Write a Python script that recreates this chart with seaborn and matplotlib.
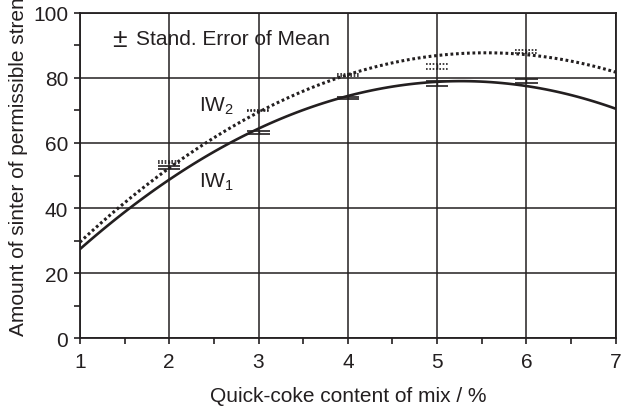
import numpy as np
import pandas as pd
import seaborn as sns
import matplotlib.pyplot as plt

# values
quick_coke = [1, 2, 3, 4, 5, 6, 7]
iw1_curve = [27.4, 48.6, 64.4, 74.6, 78.7, 77.6, 70.5]
iw2_curve = [29.5, 52.3, 69.5, 80.9, 86.9, 87.3, 81.7]

mean_x = [2, 3, 4, 5, 6]
iw1_mean = [52.5, 63.3, 73.8, 78.3, 79.2]
iw1_err = [0.5, 0.5, 0.3, 0.7, 0.6]
iw2_mean = [54.1, 70.0, 81.0, 83.5, 88.2]
iw2_err = [0.3, 0.3, 0.3, 0.75, 0.5]

x_ticks = [1, 2, 3, 4, 5, 6, 7]
y_ticks = [0, 20, 40, 60, 80, 100]

sns.set_style("ticks")
plt.rcParams["font.family"] = ["Liberation Sans", "DejaVu Sans"]
ink = "#231f20"

curves = pd.DataFrame({"x": quick_coke, "IW1": iw1_curve, "IW2": iw2_curve})

fig = plt.figure(figsize=(6.29, 4.10), dpi=100)
ax = fig.add_axes([0.127, 0.173, 0.852, 0.793])

sns.regplot(data=curves, x="x", y="IW2", order=2, ci=None, scatter=False,
            truncate=True, ax=ax,
            line_kws=dict(color=ink, lw=2.2, linestyle=(0, (0.9, 0.9))))
sns.regplot(data=curves, x="x", y="IW1", order=2, ci=None, scatter=False,
            truncate=True, ax=ax, line_kws=dict(color=ink, lw=1.9))

# standard error marks
mx = np.array(mean_x)
for m, e, ls in [(iw1_mean, iw1_err, "-"), (iw2_mean, iw2_err, (0, (1, 1)))]:
    m = np.array(m)
    e = np.array(e)
    ax.hlines(m + e, mx - 0.125, mx + 0.125, color=ink, lw=1.2, linestyles=ls)
    ax.hlines(m - e, mx - 0.125, mx + 0.125, color=ink, lw=1.2, linestyles=ls)
    ax.vlines(mx, m - e, m + e, color=ink, lw=1.0)

ax.set_xlim(1, 7)
ax.set_ylim(0, 100)
ax.set_xticks(x_ticks)
ax.set_yticks(y_ticks)
ax.set_xticks(np.arange(1.5, 7, 1), minor=True)
ax.set_yticks(np.arange(10, 100, 20), minor=True)
ax.grid(True, which="major", color=ink, lw=1.1)
for s in ax.spines.values():
    s.set_visible(True)
    s.set_color(ink)
    s.set_linewidth(1.3)
ax.tick_params(which="both", direction="out", length=4.3, width=1.2,
               color=ink, labelsize=15, labelcolor=ink)
ax.tick_params(axis="x", pad=6)
ax.tick_params(axis="y", pad=4)
ax.set_xlabel("")
ax.set_ylabel("")

ax.text(0.06, 0.92, "±", transform=ax.transAxes,
        fontsize=19, color=ink, ha="left", va="center")
ax.text(0.104, 0.92, "Stand. Error of Mean", transform=ax.transAxes,
        fontsize=15, color=ink, ha="left", va="center")
ax.text(2.33, 69.8, r"$\mathregular{IW_2}$", fontsize=15, color=ink,
        ha="left", va="baseline")
ax.text(2.33, 46.5, r"$\mathregular{IW_1}$", fontsize=15, color=ink,
        ha="left", va="baseline")

fig.text(348 / 629, 1 - 397 / 410, "Quick-coke content of mix / %",
         fontsize=15, color=ink, ha="center", va="center")
fig.text(19 / 629, 1 - 336 / 410, "Amount of sinter of permissible strength / %",
         fontsize=15, color=ink, rotation=90, ha="center", va="bottom")

fig.savefig("out.png", dpi=100)
